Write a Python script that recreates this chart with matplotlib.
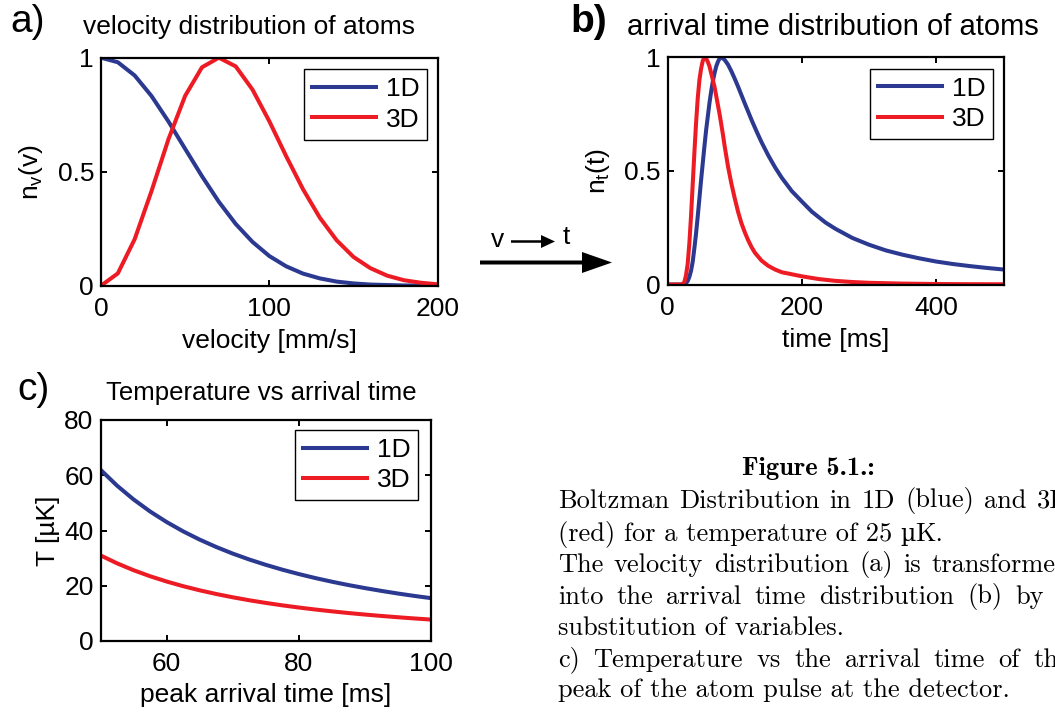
import matplotlib
matplotlib.use('Agg')
import matplotlib.pyplot as plt
from matplotlib.patches import FancyArrow

# DATA
# a) velocity distribution, sampled every 10 mm/s
velocity = [0, 10, 20, 30, 40, 50, 60, 70, 80, 90, 100, 110, 120, 130, 140, 150, 160, 170, 180, 190, 200]
nv_1d = [1.0, 0.98, 0.922, 0.832, 0.721, 0.600, 0.480, 0.368, 0.271, 0.192, 0.130, 0.085,
         0.053, 0.032, 0.018, 0.010, 0.005, 0.003, 0.001, 0.001, 0.0]
nv_3d = [0.0, 0.054, 0.204, 0.415, 0.641, 0.833, 0.958, 1.0, 0.962, 0.860, 0.721, 0.568,
         0.423, 0.298, 0.199, 0.126, 0.077, 0.044, 0.024, 0.013, 0.006]

# b) arrival time distribution
time_1d = [0, 20, 25, 27.5, 30, 32.5, 35, 37.5, 40, 42.5, 45, 47.5, 50, 52.5, 55, 57.5, 60,
           62.5, 65, 67.5, 70, 72.5, 75, 77.5, 80, 85, 90, 95, 100, 105, 110, 115, 120, 125,
           130, 135, 140, 145, 150, 160, 170, 185, 200, 215, 235, 250, 275, 300, 325, 350,
           375, 400, 425, 450, 475, 500]
nt_1d = [0, 0, 0.002, 0.006, 0.015, 0.033, 0.06, 0.10, 0.16, 0.225, 0.30, 0.38, 0.46, 0.535,
         0.61, 0.68, 0.74, 0.80, 0.85, 0.895, 0.93, 0.96, 0.98, 0.995, 1.0, 0.989, 0.968,
         0.939, 0.906, 0.871, 0.834, 0.797, 0.761, 0.725, 0.691, 0.658, 0.626, 0.597, 0.568,
         0.516, 0.470, 0.411, 0.365, 0.320, 0.273, 0.245, 0.205, 0.175, 0.150, 0.131, 0.115,
         0.101, 0.090, 0.081, 0.073, 0.066]
time_3d = [0, 20, 22.5, 25, 27.5, 30, 32.5, 35, 37.5, 40, 42.5, 45, 47.5, 50, 52.5, 55, 57.5,
           60, 62.5, 65, 67.5, 70, 72.5, 75, 77.5, 80, 82.5, 85, 87.5, 90, 95, 100, 105, 110,
           115, 120, 125, 130, 140, 150, 160, 170, 185, 200, 225, 250, 275, 300, 350, 400,
           450, 500]
nt_3d = [0, 0, 0.002, 0.01, 0.04, 0.09, 0.18, 0.30, 0.44, 0.58, 0.71, 0.82, 0.90, 0.95, 0.985,
         1.0, 0.995, 0.98, 0.96, 0.93, 0.90, 0.87, 0.83, 0.79, 0.75, 0.705, 0.66, 0.61, 0.565,
         0.52, 0.445, 0.38, 0.32, 0.27, 0.23, 0.195, 0.165, 0.14, 0.105, 0.082, 0.066, 0.054,
         0.045, 0.036, 0.024, 0.016, 0.011, 0.0075, 0.004, 0.0022, 0.0014, 0.001]

# c) temperature vs peak arrival time
peak_time = [50, 52.5, 55, 57.5, 60, 62.5, 65, 67.5, 70, 72.5, 75, 77.5, 80, 82.5, 85, 87.5,
             90, 92.5, 95, 97.5, 100]
temp_1d = [62.0, 56.24, 51.24, 46.88, 43.06, 39.68, 36.69, 34.02, 31.63, 29.49, 27.56, 25.81,
           24.22, 22.77, 21.45, 20.24, 19.14, 18.12, 17.17, 16.30, 15.5]
temp_3d = [31.0, 28.12, 25.62, 23.44, 21.53, 19.84, 18.34, 17.01, 15.82, 14.74, 13.78, 12.90,
           12.11, 11.39, 10.73, 10.12, 9.57, 9.06, 8.59, 8.15, 7.75]

caption = [
    'Boltzman Distribution in 1D (blue) and 3D',
    '(red) for a temperature of 25 µK.',
    'The velocity distribution (a) is transformed',
    'into the arrival time distribution (b) by a',
    'substitution of variables.',
    'c) Temperature vs the arrival time of the',
    'peak of the atom pulse at the detector.',
]
justified = [True, False, True, True, False, True, False]

BLUE = '#2b3990'
RED = '#ed1c24'

plt.rcParams['font.family'] = ['Liberation Sans', 'DejaVu Sans']
plt.rcParams['mathtext.default'] = 'regular'
plt.rcParams['font.size'] = 19

W, H = 1055, 716
fig = plt.figure(figsize=(W / 100, H / 100), dpi=100)

# overlay in pixel coordinates for labels, arrow and caption
ov = fig.add_axes([0, 0, 1, 1])
ov.set_xlim(0, W)
ov.set_ylim(H, 0)
ov.axis('off')


def px_axes(x0, y0, x1, y1):
    return fig.add_axes([x0 / W, 1 - y1 / H, (x1 - x0) / W, (y1 - y0) / H])


def style(ax):
    for s in ax.spines.values():
        s.set_linewidth(1.6)
    ax.tick_params(direction='in', length=4, width=1.4, top=True, right=True,
                   labelsize=19)
    ax.tick_params(axis='x', pad=8)
    ax.tick_params(axis='y', pad=5)


def legend(ax, x, y):
    lg = ax.legend(['1D', '3D'], loc='upper right', bbox_to_anchor=(x, y),
                   fancybox=False, edgecolor='black', framealpha=1,
                   handlelength=2.45, handletextpad=0.35, labelspacing=0.25,
                   borderpad=0.3, borderaxespad=0, fontsize=19)
    lg.get_frame().set_linewidth(1.0)


# a) velocity distribution
ax1 = px_axes(101, 57.7, 437.7, 285.7)
ax1.plot(velocity, nv_1d, color=BLUE, lw=2.9)
ax1.plot(velocity, nv_3d, color=RED, lw=2.9)
ax1.set_xlim(0, 200)
ax1.set_ylim(0, 1)
ax1.set_xticks([0, 100, 200])
ax1.set_yticks([0, 0.5, 1])
ax1.set_yticklabels(['0', '0.5', '1'])
ax1.set_xlabel('velocity [mm/s]', labelpad=6)
ax1.set_ylabel('$n_v(v)$', labelpad=9)
style(ax1)
legend(ax1, 0.969, 0.95)

# b) arrival time distribution
ax2 = px_axes(667.5, 57.3, 1003.5, 284.5)
ax2.plot(time_1d, nt_1d, color=BLUE, lw=2.9)
ax2.plot(time_3d, nt_3d, color=RED, lw=2.9)
ax2.set_xlim(0, 500)
ax2.set_ylim(0, 1)
ax2.set_xticks([0, 200, 400])
ax2.set_yticks([0, 0.5, 1])
ax2.set_yticklabels(['0', '0.5', '1'])
ax2.set_xlabel('time [ms]', labelpad=6)
ax2.set_ylabel('$n_t(t)$', labelpad=9)
style(ax2)
legend(ax2, 0.969, 0.95)

# c) temperature vs arrival time
ax3 = px_axes(100.5, 420, 431.3, 641)
ax3.plot(peak_time, temp_1d, color=BLUE, lw=2.9)
ax3.plot(peak_time, temp_3d, color=RED, lw=2.9)
ax3.set_xlim(50, 100)
ax3.set_ylim(0, 80)
ax3.set_xticks([60, 80, 100])
ax3.set_yticks([0, 20, 40, 60, 80])
ax3.set_xlabel('peak arrival time [ms]', labelpad=5)
ax3.set_ylabel('T [µK]', labelpad=3)
style(ax3)
legend(ax3, 0.96, 0.955)

# panel letters and titles
ov.text(10, 22, 'a)', fontsize=28, va='center', ha='left')
ov.text(83, 27, 'velocity distribution of atoms', va='center', ha='left')
ov.text(570, 22, 'b)', fontsize=28, fontweight='bold', va='center', ha='left')
ov.text(627, 27, 'arrival time distribution of atoms', fontsize=21, va='center', ha='left')
ov.text(17, 390, 'c)', fontsize=28, va='center', ha='left')
ov.text(106, 393, 'Temperature vs arrival time', fontsize=18.5, va='center', ha='left')

# v -> t arrow
ov.text(498, 240, 'v', va='center', ha='center')
ov.text(566, 237, 't', va='center', ha='center')
ov.add_patch(FancyArrow(511, 241.5, 44, 0, width=2.5, head_width=13, head_length=14,
                        length_includes_head=True, color='black', lw=0))
ov.add_patch(FancyArrow(480, 262.5, 132, 0, width=4, head_width=21, head_length=30,
                        length_includes_head=True, color='black', lw=0))

# caption
cap_font = ['cmr10', 'DejaVu Serif']
ov.text(808, 468, 'Figure 5.1.:', family=['cmb10', 'DejaVu Serif'], va='center', ha='center')
line_y = [501, 534, 565, 597, 628, 660, 690]
renderer = fig.canvas.get_renderer()
for line, y, just in zip(caption, line_y, justified):
    if 'µ' in line:
        # cmr10 has no proper micro sign, so set it in another serif face
        head, tail = line.split('µ')
        t1 = ov.text(558, y, head.rstrip(), family=cap_font, va='center', ha='left')
        x = 558 + t1.get_window_extent(renderer).width + 8
        t2 = ov.text(x, y, 'µ', family='DejaVu Serif', fontsize=17, va='center', ha='left')
        x += t2.get_window_extent(renderer).width
        ov.text(x, y, tail, family=cap_font, va='center', ha='left')
        continue
    if not just:
        ov.text(558, y, line, family=cap_font, va='center', ha='left')
        continue
    words = line.split(' ')
    texts = [ov.text(0, y, w, family=cap_font, va='center', ha='left') for w in words]
    widths = [t.get_window_extent(renderer).width for t in texts]
    gap = (1070 - 558 - sum(widths)) / (len(words) - 1)
    x = 558
    for t, w in zip(texts, widths):
        t.set_x(x)
        x += w + gap

fig.savefig('out.png', dpi=100)
